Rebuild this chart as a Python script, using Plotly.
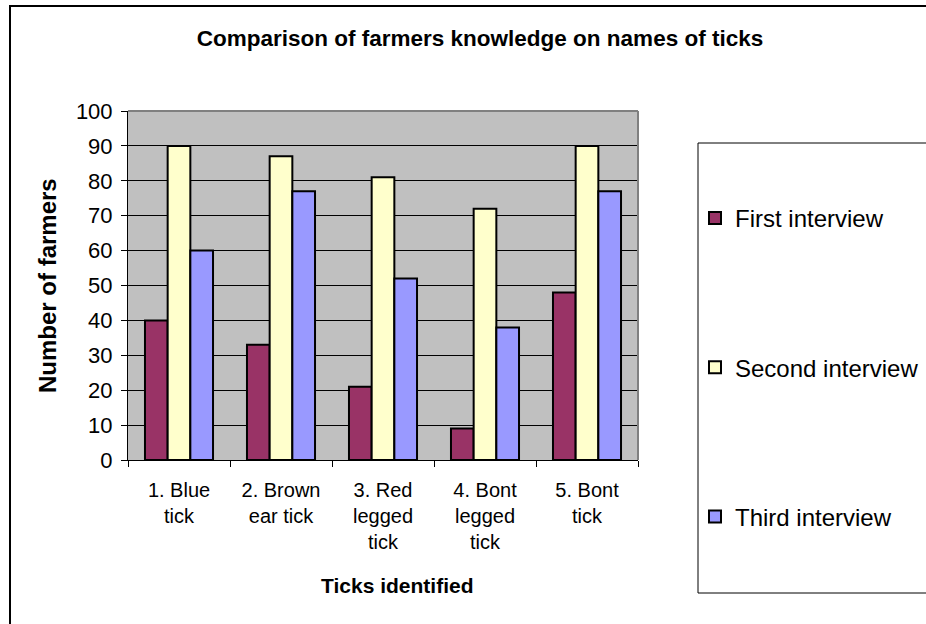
import plotly.graph_objects as go

# Tick species surveyed and farmer counts per interview round
ticks = ["1. Blue<br>tick", "2. Brown<br>ear tick", "3. Red<br>legged<br>tick",
         "4. Bont<br>legged<br>tick", "5. Bont<br>tick"]
first_interview = [40, 33, 21, 9, 48]
second_interview = [90, 87, 81, 72, 90]
third_interview = [60, 77, 52, 38, 77]

series_names = ["First interview", "Second interview", "Third interview"]
series_colors = ["#993366", "#FFFFCC", "#9999FF"]
y_ticks = list(range(0, 101, 10))

W, H = 926, 624
L, R, T, B = 128, 638, 111, 460  # plot area in pixels


def px_x(p):
    return (p - L) / (R - L)


def px_y(p):
    return (B - p) / (B - T)


fig = go.Figure()
for i, (name, vals, col) in enumerate(zip(series_names,
                                         [first_interview, second_interview, third_interview],
                                         series_colors)):
    fig.add_trace(go.Bar(
        x=ticks, y=vals, name=name, legendgroup=f"g{i}",
        marker=dict(color=col, line=dict(color="black", width=2)),
    ))

font = "Liberation Sans, Arial, sans-serif"

fig.update_layout(
    width=W, height=H,
    margin=dict(l=L, r=W - R, t=T, b=H - B, autoexpand=False),
    paper_bgcolor="white",
    plot_bgcolor="#C0C0C0",
    barmode="group",
    bargap=0.333,
    bargroupgap=0,
    font=dict(family=font, color="black", size=20),
    title=dict(
        text="<b>Comparison of farmers knowledge on names of ticks</b>",
        x=(196 + 764) / 2 / W, xanchor="center",
        y=1 - 38 / H, yanchor="middle",
        font=dict(size=22.5, family=font, color="black"),
    ),
    showlegend=True,
    legend=dict(
        x=px_x(695), xanchor="left",
        y=px_y(196), yanchor="top",
        bgcolor="rgba(0,0,0,0)",
        borderwidth=0,
        font=dict(size=24, family=font, color="black"),
        tracegroupgap=115,
        traceorder="grouped",
        itemclick=False,
    ),
    xaxis=dict(
        showline=True, linecolor="black", linewidth=1,
        ticks="outside", ticklen=6, tickcolor="black",
        tickson="boundaries",
        ticklabelstandoff=12,
        tickfont=dict(size=20, family=font),
        mirror=False,
    ),
    yaxis=dict(
        range=[0, 100], tickvals=y_ticks,
        showline=True, linecolor="black", linewidth=1,
        ticks="outside", ticklen=6, tickcolor="black",
        ticklabelstandoff=4,
        showgrid=True, gridcolor="black", gridwidth=1,
        tickfont=dict(size=22, family=font),
        zeroline=False,
    ),
    annotations=[
        dict(text="<b>Ticks identified</b>", xref="paper", yref="paper",
             x=px_x(397), y=px_y(585), xanchor="center", yanchor="middle",
             showarrow=False, font=dict(size=21, family=font, color="black")),
        dict(text="<b>Number of farmers</b>", xref="paper", yref="paper",
             x=px_x(47), y=px_y(286), xanchor="center", yanchor="middle",
             textangle=-90, showarrow=False,
             font=dict(size=24, family=font, color="black")),
    ],
    shapes=[
        # outer chart frame
        dict(type="rect", xref="paper", yref="paper",
             x0=px_x(10), x1=px_x(940), y0=px_y(640), y1=px_y(6),
             line=dict(color="black", width=2), layer="below"),
        # plot area top/right border
        dict(type="line", xref="paper", yref="paper", x0=0, x1=1, y0=1, y1=1,
             line=dict(color="#808080", width=2)),
        dict(type="line", xref="paper", yref="paper", x0=1, x1=1, y0=0, y1=1,
             line=dict(color="#808080", width=2)),
        # legend frame
        dict(type="rect", xref="paper", yref="paper",
             x0=px_x(698), x1=px_x(940), y0=px_y(593), y1=px_y(143),
             line=dict(color="black", width=1), fillcolor="white", layer="below"),
    ],
)

fig.write_html("out.html")
